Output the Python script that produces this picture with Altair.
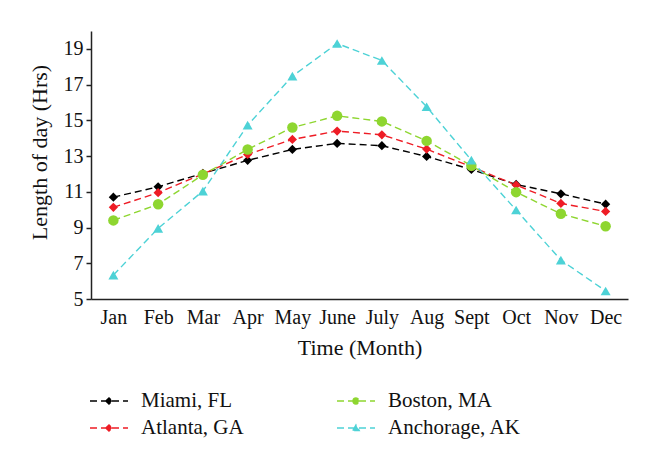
import altair as alt
import pandas as pd

months = ["Jan", "Feb", "Mar", "Apr", "May", "June", "July", "Aug", "Sept", "Oct", "Nov", "Dec"]
cities = ["Miami, FL", "Atlanta, GA", "Boston, MA", "Anchorage, AK"]
miami = [10.7, 11.28, 12.03, 12.76, 13.37, 13.71, 13.58, 12.98, 12.25, 11.41, 10.89, 10.31]
atlanta = [10.13, 10.95, 12.0, 13.09, 13.93, 14.4, 14.19, 13.39, 12.4, 11.38, 10.35, 9.9]
boston = [9.4, 10.3, 11.95, 13.37, 14.6, 15.25, 14.94, 13.85, 12.46, 10.98, 9.77, 9.07]
anchorage = [6.34, 8.95, 11.04, 14.73, 17.47, 19.3, 18.35, 15.76, 12.77, 9.98, 7.18, 5.45]
colors = ["#000000", "#ee1c25", "#8ed630", "#4dd2d6"]
y_ticks = [5, 7, 9, 11, 13, 15, 17, 19]

series = [miami, atlanta, boston, anchorage]
rows = []
for c, vals in zip(cities, series):
    for m, v in zip(months, vals):
        rows.append({"month": m, "city": c, "hours": v, "city2": c})
df = pd.DataFrame(rows)

FONT = "Liberation Serif"

# legend symbols: dashed line with marker (custom paths)
leg_paths = {
    "Miami, FL": "M-1.9,0 L1.9,0 M-0.32,0 L0,-0.3 L0.32,0 L0,0.3 Z",
    "Atlanta, GA": "M-1.9,0 L1.9,0 M-0.32,0 L0,-0.3 L0.32,0 L0,0.3 Z",
    "Boston, MA": "M-1.9,0 L1.9,0 M-0.3,0 A0.3,0.3 0 1,0 0.3,0 A0.3,0.3 0 1,0 -0.3,0 Z",
    "Anchorage, AK": "M-1.9,0 L1.9,0 M-0.32,0.26 L0,-0.3 L0.32,0.26 Z",
}

# marks' colour scale (domain order differs from the legend's so the two are not merged)
mark_domain = ["Atlanta, GA", "Miami, FL", "Boston, MA", "Anchorage, AK"]
mark_range = [colors[cities.index(c)] for c in mark_domain]

x_enc = alt.X("month:N", sort=months, scale=alt.Scale(paddingOuter=0.5),
              axis=alt.Axis(title="Time (Month)", labelAngle=0, ticks=False, grid=False,
                            labelFont=FONT, labelFontSize=20, labelColor="#111",
                            titleFont=FONT, titleFontSize=22, titleFontWeight="normal",
                            titleColor="#111", labelPadding=8, titlePadding=10,
                            domainColor="#222", domainWidth=1.5))
y_enc = alt.Y("hours:Q", scale=alt.Scale(domain=[5, 20], nice=False, zero=False),
              axis=alt.Axis(title="Length of day (Hrs)", values=y_ticks, grid=False,
                            tickSize=5, tickColor="#222", tickWidth=1.5,
                            labelFont=FONT, labelFontSize=20, labelColor="#111",
                            titleFont=FONT, titleFontSize=22, titleFontWeight="normal",
                            titleColor="#111", labelPadding=3, titlePadding=12, titleY=121,
                            domainColor="#222", domainWidth=1.5))
color_enc = alt.Color("city:N", scale=alt.Scale(domain=mark_domain, range=mark_range), legend=None)

base = alt.Chart(df)

lines = base.mark_line(strokeDash=[7, 4], strokeWidth=1.4).encode(
    x=x_enc, y=y_enc, color=color_enc, detail="city:N")

point_layers = []
for shp, size, group in [("diamond", 85, ["Miami, FL", "Atlanta, GA"]),
                         ("circle", 110, ["Boston, MA"]),
                         ("triangle-up", 100, ["Anchorage, AK"])]:
    point_layers.append(
        base.transform_filter(alt.FieldOneOfPredicate(field="city", oneOf=group))
        .mark_point(filled=True, opacity=1, size=size, shape=shp)
        .encode(x=x_enc, y=y_enc, color=color_enc)
    )

legend_def = alt.Legend(title=None, orient="none", legendX=7, legendY=359, columns=2,
                        columnPadding=90, rowPadding=6, padding=0,
                        symbolSize=400, symbolOpacity=1, symbolStrokeWidth=1.4,
                        symbolDash=[7, 4], labelOffset=21,
                        labelFont=FONT, labelFontSize=21, labelColor="#111", labelLimit=300)

legend_layer = base.mark_point(filled=True, opacity=0).encode(
    x=x_enc, y=y_enc,
    fill=alt.Fill("city2:N", scale=alt.Scale(domain=cities, range=colors), legend=legend_def),
    stroke=alt.Stroke("city2:N", scale=alt.Scale(domain=cities, range=colors), legend=legend_def),
    shape=alt.Shape("city2:N", scale=alt.Scale(domain=cities, range=[leg_paths[c] for c in cities]),
                    legend=legend_def),
)

chart = alt.layer(lines, *point_layers, legend_layer).properties(
    width=537, height=268,
    padding={"left": 83, "top": 23, "right": 22, "bottom": 163},
    autosize=alt.AutoSizeParams(type="none"),
    background="white",
).configure_view(stroke=None)

chart.save("out.html", embed_options={"renderer": "svg", "actions": False})
